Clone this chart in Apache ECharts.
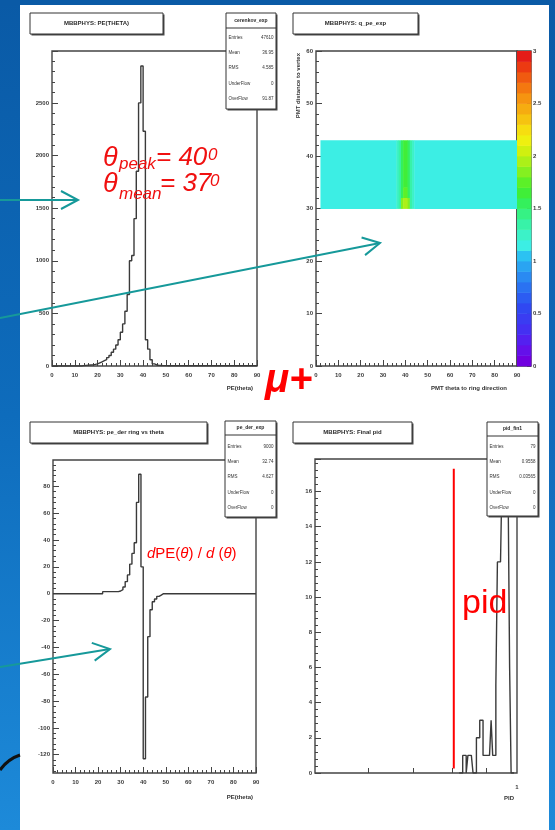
<!DOCTYPE html>
<html>
<head>
<meta charset="utf-8">
<script src="https://cdn.jsdelivr.net/npm/echarts@6/dist/echarts.min.js"></script>
<style>
  html, body { margin: 0; padding: 0; background: #ffffff; }
  #chart { width: 555px; height: 830px; }
</style>
</head>
<body>
<div id="chart"></div>
<script>
// ---------- PE(theta): photo-electrons per 1 degree theta bin, bins 0..89 ----------
const thetaBinLow = [
  0,1,2,3,4,5,6,7,8,9,10,11,12,13,14,15,16,17,18,19,
  20,21,22,23,24,25,26,27,28,29,30,31,32,33,34,35,36,37,38,39,
  40,41,42,43,44,45,46,47,48,49,50,51,52,53,54,55,56,57,58,59,
  60,61,62,63,64,65,66,67,68,69,70,71,72,73,74,75,76,77,78,79,
  80,81,82,83,84,85,86,87,88,89
];
const peTheta = [
  0,0,0,0,0,0,0,0,0,0,
  0,0,0,4,6,8,10,12,15,20,
  30,40,50,60,80,100,130,160,200,250,
  320,400,520,680,1000,1050,1400,1850,2500,2850,
  2230,250,160,60,20,10,6,5,4,4,
  3,3,3,2,2,2,2,2,2,2,
  2,2,2,2,2,2,2,2,2,2,
  2,2,2,2,2,2,2,2,2,2,
  2,2,2,2,2,2,2,2,2,2
];
const peAxisMax = 2993;

// ---------- dPE(theta)/d(theta), same theta bins ----------
const peDeriv = [
  0,0,0,0,0,0,0,0,0,0,
  0,0,0,0,0,0,0,0,0,0,
  0,0,1.5,1.5,1.5,1.5,1.5,1.5,1.5,2,
  3,5,9,14,22,30,38,68,89,20,
  -123,-77,-32,-12,-6,-4,-2,-1,0,0,
  0,0,0,0,0,0,0,0,0,0,
  0,0,0,0,0,0,0,0,0,0,
  0,0,0,0,0,0,0,0,0,0,
  0,0,0,0,0,0,0,0,0,0
];
const derivAxisMin = -133.6;
const derivAxisMax = 99.6;

// ---------- q_pe_exp map: [thetaLow, thetaHigh, distLow, distHigh, q] ----------
const qCells = [
  [2, 36, 30, 43, 1.15],
  [36, 37, 30, 43, 1.25],
  [37, 38, 30, 43, 1.35],
  [38, 39, 32, 43, 1.5],
  [39, 41, 34, 43, 1.65],
  [39, 41, 32, 34, 1.75],
  [38, 39, 30, 32, 1.85],
  [39, 41, 30, 32, 1.95],
  [41, 42, 32, 43, 1.5],
  [41, 42, 30, 32, 1.8],
  [42, 43, 30, 43, 1.35],
  [43, 44, 30, 43, 1.25],
  [44, 90, 30, 43, 1.15]
];

// ---------- colour scale levels (z) and their colours ----------
const zLevels = [
  0.0,0.1,0.2,0.3,0.4,0.5,0.6,0.7,0.8,0.9,
  1.0,1.1,1.2,1.3,1.4,1.5,1.6,1.7,1.8,1.9,
  2.0,2.1,2.2,2.3,2.4,2.5,2.6,2.7,2.8,2.9
];
const zStep = 0.1;
const zPalette = [
  '#7000e0','#6410ea','#5420f0','#4430f2','#3a3cf2','#3048f2','#2c5cf2','#2a72f2','#2a8af2','#2aa4f2',
  '#2cc2f2','#3ceee4','#3cf2c8','#38f2a8','#36f284','#34f05c','#40ee38','#5cf028','#84f020','#acf018',
  '#d0f010','#eef010','#f6de10','#f6c410','#f6ac10','#f69410','#f47810','#f05a10','#ec3a12','#e41c18'
];

// ---------- final pid histogram ----------
const pidEdges = [
  0.820,0.825,0.830,0.835,0.840,0.845,0.850,0.855,0.860,0.865,
  0.870,0.875,0.880,0.885,0.890,0.895,0.900,0.905,0.910,0.915,
  0.920,0.925,0.930,0.935,0.940,0.945,0.950,0.955,0.960,0.965,
  0.970,0.975,0.980,0.985,0.990
];
const pidCounts = [
  0,0,1,1,0,1,1,1,0,0,
  2,2,3,3,1,1,1,1,1,3,
  1,1,5,12,12,12,17,17,16,16,
  16,6,0,0
];
const pidCut = 0.805;
const pidAxisMax = 17.85;

// ---------- tick values ----------
const thetaTicks = [0,10,20,30,40,50,60,70,80,90];
const derivTicks = [-120,-100,-80,-60,-40,-20,0,20,40,60,80];
const pidTicks = [0.6,0.7,0.8,0.9];
const pidLabels = [1];

// ---------- build step data ----------
function stepData(lows, values, lastEdge) {
  const d = lows.map((x, i) => [x, values[i]]);
  d.push([lastEdge, values[values.length - 1]]);
  return d;
}
const peStep = stepData(thetaBinLow, peTheta, 90);
const derivStep = stepData(thetaBinLow, peDeriv, 90);
const pidStep = pidCounts.map((c, i) => [pidEdges[i], c]);
pidStep.push([pidEdges[pidEdges.length - 1], 0]);

const derivMinorTicks = [];
for (let v = -132; v <= 96; v += 4) { if (v % 20 !== 0) derivMinorTicks.push(v); }

function zColor(v) {
  let i = Math.floor(v / zStep + 1e-9);
  i = Math.max(0, Math.min(zPalette.length - 1, i));
  return zPalette[i];
}

function renderCell(params, api) {
  const p0 = api.coord([api.value(0), api.value(2)]);
  const p1 = api.coord([api.value(1), api.value(3)]);
  return {
    type: 'rect',
    shape: { x: p0[0], y: p1[1], width: p1[0] - p0[0] + 0.4, height: p0[1] - p1[1] + 0.4 },
    style: { fill: zColor(api.value(4)), stroke: null }
  };
}

const FONT = 'Liberation Sans';
const plain = v => String(v);
const tickLabel = { fontFamily: FONT, fontSize: 6, fontWeight: 'bold', color: '#3a3a3a', formatter: plain };
const tickLine = { color: '#444', width: 1 };

function linAxis(gridIndex, min, max, interval, labelMargin, extra) {
  return Object.assign({
    type: 'value', gridIndex, min, max, interval,
    axisLine: { show: false, onZero: false },
    axisTick: { show: true, inside: true, length: 6, lineStyle: tickLine },
    minorTick: { show: true, splitNumber: 5, length: 3, lineStyle: tickLine },
    axisLabel: Object.assign({ margin: labelMargin }, tickLabel),
    splitLine: { show: false },
    minorSplitLine: { show: false }
  }, extra || {});
}

const gridBorder = { show: true, borderColor: '#444', borderWidth: 1.4, backgroundColor: '#ffffff' };

const option = {
  animation: false,
  backgroundColor: 'transparent',
  grid: [
    Object.assign({ left: 52, top: 51, width: 205, height: 315 }, gridBorder),
    Object.assign({ left: 316, top: 51, width: 201, height: 315 }, gridBorder),
    Object.assign({ left: 517, top: 51, width: 14, height: 315 }, gridBorder),
    Object.assign({ left: 53, top: 460, width: 203, height: 313 }, gridBorder),
    Object.assign({ left: 315, top: 459, width: 202, height: 314 }, gridBorder)
  ],
  xAxis: [
    linAxis(0, 0, 90, 10, 6),
    linAxis(1, 0, 90, 10, 6),
    { type: 'value', gridIndex: 2, min: 0, max: 1, show: false },
    linAxis(3, 0, 90, 10, 6),
    {
      type: 'log', gridIndex: 4, logBase: 10, min: 0.5, max: 1,
      axisLine: { show: false, onZero: false },
      axisTick: { show: true, inside: true, length: 5, lineStyle: tickLine, customValues: pidTicks },
      axisLabel: Object.assign({ margin: 11, customValues: pidLabels }, tickLabel),
      splitLine: { show: false }
    }
  ],
  yAxis: [
    linAxis(0, 0, peAxisMax, 500, 3, { axisLabel: Object.assign({ margin: 3, showMaxLabel: false }, tickLabel) }),
    linAxis(1, 0, 60, 10, 3),
    {
      type: 'value', gridIndex: 2, min: 0, max: 3, interval: 0.5, position: 'right',
      axisLine: { show: false, onZero: false },
      axisTick: { show: true, inside: true, length: 4, lineStyle: tickLine },
      axisLabel: Object.assign({ margin: 2 }, tickLabel),
      splitLine: { show: false }
    },
    {
      type: 'value', gridIndex: 3, min: derivAxisMin, max: derivAxisMax, position: 'left', offset: 0,
      axisLine: { show: false, onZero: false },
      axisTick: { show: true, inside: true, length: 6, lineStyle: tickLine, customValues: derivTicks },
      axisLabel: Object.assign({ margin: 3, customValues: derivTicks }, tickLabel),
      splitLine: { show: false }
    },
    {
      type: 'value', gridIndex: 3, min: derivAxisMin, max: derivAxisMax, position: 'left', offset: 0,
      axisLine: { show: false, onZero: false },
      axisTick: { show: true, inside: true, length: 3, lineStyle: tickLine, customValues: derivMinorTicks },
      axisLabel: { show: false },
      splitLine: { show: false }
    },
    linAxis(4, 0, pidAxisMax, 2, 3, { axisLabel: Object.assign({ margin: 3, showMaxLabel: false }, tickLabel) })
  ],
  series: [
    {
      name: 'PE(theta)', type: 'line', xAxisIndex: 0, yAxisIndex: 0, step: 'end',
      data: peStep, symbol: 'none', lineStyle: { color: '#3a3a3a', width: 1.4 }, z: 3
    },
    {
      name: 'q_pe_exp', type: 'custom', xAxisIndex: 1, yAxisIndex: 1,
      renderItem: renderCell, data: qCells, encode: { x: [0, 1], y: [2, 3] }, clip: true, z: 2
    },
    {
      name: 'scale', type: 'custom', xAxisIndex: 2, yAxisIndex: 2,
      renderItem: renderCell, data: zLevels.map(l => [0, 1, l, l + zStep, l + zStep / 2]),
      encode: { x: [0, 1], y: [2, 3] }, z: 2
    },
    {
      name: 'dPE/dtheta', type: 'line', xAxisIndex: 3, yAxisIndex: 3, step: 'end',
      data: derivStep, symbol: 'none', lineStyle: { color: '#3a3a3a', width: 1.4 }, z: 3
    },
    {
      name: 'pid', type: 'line', xAxisIndex: 4, yAxisIndex: 5, step: 'end',
      data: pidStep, symbol: 'none', lineStyle: { color: '#3a3a3a', width: 1.4 }, z: 3
    },
    {
      name: 'pid cut', type: 'line', xAxisIndex: 4, yAxisIndex: 5,
      data: [[pidCut, 0.25], [pidCut, 17.3]], symbol: 'none',
      lineStyle: { color: '#ff0000', width: 2 }, z: 4
    }
  ]
};

// ---------- slide decoration, ROOT pave boxes and annotations ----------
const Z = 100;
const g = [];

function txt(x, y, text, font, fill, align, vAlign, extra) {
  return Object.assign({
    type: 'text', x, y, z: Z + 2,
    style: { text, font, fill, align: align || 'left', verticalAlign: vAlign || 'middle' }
  }, extra || {});
}

function pave(x, y, w, h) {
  g.push({ type: 'rect', z: Z, shape: { x: x + 1.5, y: y + 1.5, width: w, height: h }, style: { fill: '#4a4a4a' } });
  g.push({ type: 'rect', z: Z + 1, shape: { x, y, width: w, height: h }, style: { fill: '#ffffff', stroke: '#333', lineWidth: 1 } });
}

function titleBox(x, y, w, h, text) {
  pave(x, y, w, h);
  g.push(txt(x + w / 2, y + h / 2, text, 'bold 6px "Liberation Sans"', '#2a2a2a', 'center'));
}

function statsBox(x, y, w, h, sepY, name, rows, rowY) {
  pave(x, y, w, h);
  g.push({ type: 'line', z: Z + 2, shape: { x1: x, y1: sepY, x2: x + w, y2: sepY }, style: { stroke: '#333', lineWidth: 1 } });
  g.push(txt(x + w / 2, (y + sepY) / 2, name, 'bold 5px "Liberation Sans"', '#2a2a2a', 'center'));
  rows.forEach((r, i) => {
    g.push(txt(x + 2.5, rowY[i], r[0], '4.5px "Liberation Sans"', '#333', 'left'));
    g.push(txt(x + w - 2.5, rowY[i], r[1], '4.5px "Liberation Sans"', '#333', 'right'));
  });
}

function arrow(x0, y0, x1, y1) {
  const col = '#16999a';
  const dx = x1 - x0, dy = y1 - y0, L = Math.hypot(dx, dy);
  const ux = dx / L, uy = dy / L;
  const bx = x1 - ux * 17, by = y1 - uy * 17;
  const nx = -uy * 9, ny = ux * 9;
  g.push({ type: 'line', z: Z + 5, shape: { x1: x0, y1: y0, x2: x1, y2: y1 }, style: { stroke: col, lineWidth: 2 } });
  g.push({ type: 'polyline', z: Z + 5, shape: { points: [[bx + nx, by + ny], [x1, y1], [bx - nx, by - ny]] },
    style: { stroke: col, lineWidth: 2, fill: null } });
}

// slide frame
g.push({ type: 'rect', z: -20, shape: { x: 0, y: 0, width: 20, height: 830 },
  style: { fill: new echarts.graphic.LinearGradient(0, 0, 0, 1, [
    { offset: 0, color: '#0a5aa6' }, { offset: 0.5, color: '#0e6cbc' }, { offset: 1, color: '#1d8ad9' }]) } });
g.push({ type: 'rect', z: -20, shape: { x: 0, y: 0, width: 555, height: 5 }, style: { fill: '#0a5aa6' } });
g.push({ type: 'rect', z: -20, shape: { x: 549, y: 0, width: 6, height: 830 },
  style: { fill: new echarts.graphic.LinearGradient(0, 0, 0, 1, [
    { offset: 0, color: '#0a5aa6' }, { offset: 0.5, color: '#1068b8' }, { offset: 1, color: '#1d8ad9' }]) } });
g.push({ type: 'bezierCurve', z: -19, shape: { x1: 0, y1: 770, cpx1: 8, cpy1: 759, x2: 20, y2: 755 },
  style: { stroke: '#111', lineWidth: 3, fill: null } });

// panel titles
titleBox(30, 13, 133, 21, 'MBBPHYS: PE(THETA)');
titleBox(293, 13, 125, 21, 'MBBPHYS: q_pe_exp');
titleBox(30, 422, 177, 21, 'MBBPHYS: pe_der ring vs theta');
titleBox(293, 422, 119, 21, 'MBBPHYS: Final pid');

// statistics boxes
statsBox(226, 13, 50, 96, 28, 'cerenkov_exp',
  [['Entries', '47610'], ['Mean', '36.95'], ['RMS', '4.585'], ['UnderFlow', '0'], ['OverFlow', '91.87']],
  [38, 53, 68, 84, 99]);
statsBox(225, 421, 51, 96, 435, 'pe_der_exp',
  [['Entries', '9000'], ['Mean', '32.74'], ['RMS', '4.627'], ['UnderFlow', '0'], ['OverFlow', '0']],
  [447, 462, 477, 493, 508]);
statsBox(487, 422, 51, 94, 436, 'pid_fin1',
  [['Entries', '79'], ['Mean', '0.9558'], ['RMS', '0.03565'], ['UnderFlow', '0'], ['OverFlow', '0']],
  [447, 462, 477, 493, 508]);

// axis titles
const axFont = 'bold 6px "Liberation Sans"';
g.push(txt(253, 388, 'PE(theta)', axFont, '#333', 'right'));
g.push(txt(507, 388, 'PMT theta to ring direction', axFont, '#333', 'right'));
g.push(txt(298, 53, 'PMT distance to vertex', axFont, '#333', 'right', 'middle', { rotation: Math.PI / 2 }));
g.push(txt(253, 797, 'PE(theta)', axFont, '#333', 'right'));
g.push(txt(514, 798, 'PID', axFont, '#333', 'right'));

// red annotations
const red = '#f01010';
const itFont = s => 'italic ' + s + 'px "Liberation Sans"';
g.push(txt(103, 158, 'θ', itFont(27), red));
g.push(txt(119, 164, 'peak', itFont(17), red));
g.push(txt(156, 158, '= 40', itFont(26), red));
g.push(txt(208, 155, '0', itFont(17), red));
g.push(txt(103, 184, 'θ', itFont(27), red));
g.push(txt(119, 194, 'mean', itFont(17), red));
g.push(txt(160, 184, '= 37', itFont(26), red));
g.push(txt(210, 181, '0', itFont(17), red));

g.push(txt(265, 381, 'μ+', 'bold italic 40px "Liberation Sans"', '#ff0000'));

g.push({
  type: 'text', x: 147, y: 554, z: Z + 2,
  style: {
    text: '{i|d}{n|PE(}{i|θ}{n|) / }{i|d}{n| (}{i|θ}{n|)}',
    verticalAlign: 'middle', align: 'left',
    rich: {
      i: { font: 'italic 15px "Liberation Sans"', fill: '#ff0000' },
      n: { font: '15px "Liberation Sans"', fill: '#ff0000' }
    }
  }
});
g.push(txt(462, 604, 'pid', '34px "Liberation Sans"', '#ff0000'));

// arrows
arrow(0, 200, 78, 200);
arrow(0, 318, 380, 243);
arrow(0, 667, 110, 649);

option.graphic = { elements: g };

const chart = echarts.init(document.getElementById('chart'), null, { renderer: 'canvas', width: 555, height: 830 });
chart.setOption(option);
</script>
</body>
</html>
